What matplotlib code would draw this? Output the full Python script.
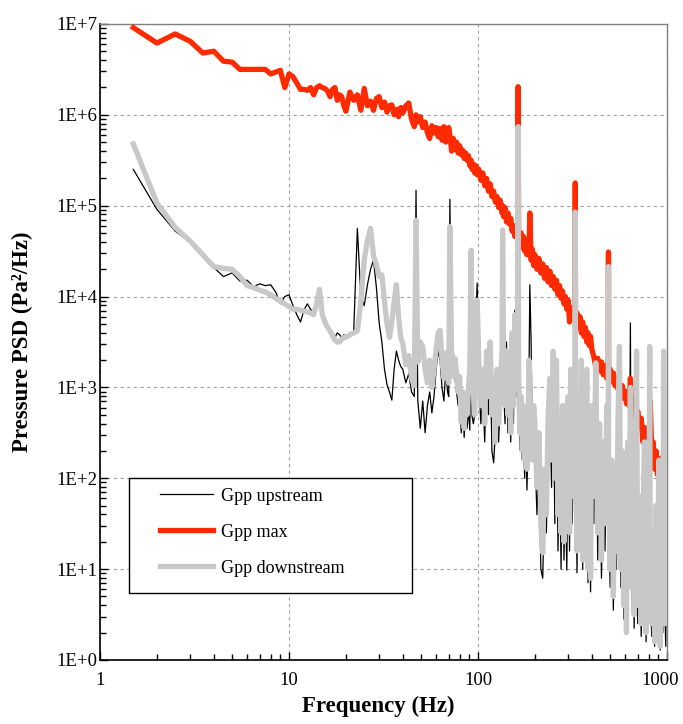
import numpy as np
import matplotlib
matplotlib.use("Agg")
import matplotlib.pyplot as plt
import matplotlib.transforms as mtransforms
from matplotlib.patches import Rectangle

plt.rcParams['font.family'] = 'serif'
plt.rcParams['font.serif'] = ['Liberation Serif', 'DejaVu Serif']

# --- data: frequency (Hz) and log10 of PSD (Pa^2/Hz) ---
freq_a = [1.5, 2, 2.5, 3, 3.5, 4, 4.5, 5, 5.5, 6, 6.5, 7, 7.5, 8, 8.5, 9, 9.5, 10,
          10.5, 11, 11.5, 12, 12.5, 13, 13.5, 14, 14.5, 15, 15.5, 16, 16.5, 17,
          17.5, 18, 18.5, 19, 19.5, 20]
max_a = [6.96, 6.79, 6.89, 6.81, 6.68, 6.70, 6.59, 6.58, 6.50, 6.50, 6.50, 6.50,
         6.50, 6.45, 6.47, 6.49, 6.30, 6.45, 6.42, 6.35, 6.28, 6.28, 6.27, 6.30,
         6.22, 6.30, 6.32, 6.30, 6.29, 6.26, 6.20, 6.28, 6.30, 6.16, 6.22, 6.20,
         6.10, 6.04]
down_a = [5.68, 5.03, 4.76, 4.61, 4.46, 4.33, 4.31, 4.30, 4.22, 4.12, 4.10, 4.07,
          4.05, 4.02, 3.98, 3.95, 3.92, 3.89, 3.86, 3.86, 3.85, 3.84, 3.83, 3.82,
          3.80, 3.92, 4.08, 3.80, 3.72, 3.66, 3.62, 3.57, 3.52, 3.50, 3.50, 3.53,
          3.55, 3.55]
up_a = [5.40, 4.96, 4.72, 4.60, 4.45, 4.32, 4.22, 4.26, 4.17, 4.18, 4.11, 4.14,
        4.12, 4.13, 4.05, 3.92, 4.00, 4.02, 3.90, 3.80, 3.72, 3.85, 3.92, 3.86,
        3.82, 3.96, 3.90, 3.82, 3.75, 3.69, 3.60, 3.53, 3.55, 3.60, 3.58, 3.55,
        3.58, 3.56]

freq_b = [21, 22, 23, 24, 25, 26, 27, 28, 29, 30, 31, 32, 33, 34, 35, 36, 37, 38,
          39, 40, 41.5, 43, 44.5, 46, 47, 48, 49.5, 51, 52.5, 54, 55.5, 57, 58.5,
          60, 61.5, 63, 64.5, 66, 67.5, 69, 70, 71, 72.5, 74, 75.5, 77, 78.5, 80,
          81.5, 83, 84.5, 86, 87.5, 89, 90.5, 92, 93, 94.5, 96, 97.5, 99]
max_b = [6.25, 6.16, 6.22, 6.05, 6.29, 6.10, 6.15, 6.05, 6.18, 6.20, 6.08, 6.14,
         6.03, 6.10, 6.11, 6.00, 6.06, 5.98, 6.08, 6.02,
         6.10, 6.13, 5.95, 5.87, 6.00, 5.92,
         5.98, 5.86, 5.92, 5.80, 5.74, 5.88, 5.80, 5.86, 5.76, 5.85, 5.72, 5.87,
         5.70, 5.80, 5.86, 5.78,
         5.60, 5.74, 5.62, 5.70, 5.58, 5.66, 5.56, 5.61, 5.52, 5.58, 5.50, 5.55,
         5.44, 5.50, 5.40, 5.46, 5.36, 5.44, 5.34]
down_b = [3.58, 3.60, 3.62, 3.95, 4.40, 4.62, 4.75, 4.45, 4.35, 4.22, 4.24, 3.95,
          3.70, 3.55, 3.72, 3.95, 4.13, 3.78, 3.55, 3.48,
          3.25, 3.35, 3.10, 3.02, 4.84, 3.28,
          3.50, 3.45, 3.20, 3.05, 3.30, 3.00, 3.20, 3.42, 3.60, 3.63, 3.30, 3.10,
          3.38, 3.15, 3.05, 4.77,
          3.35, 3.12, 3.32, 3.16, 2.95, 3.12, 2.62, 2.95, 2.55, 2.85, 2.70, 3.00,
          3.22, 4.51, 3.20, 2.95, 2.70, 3.50, 3.96]
up_b = [3.58, 3.62, 4.75, 4.00, 3.90, 4.13, 4.30, 4.40, 4.10, 3.71, 3.50, 3.20,
        3.03, 2.95, 2.86, 3.20, 3.40, 3.30, 3.23, 3.20,
        3.05, 3.15, 2.95, 2.90, 5.17, 2.86,
        2.55, 2.85, 2.50, 2.80, 2.95, 2.72, 2.90, 3.20, 3.40, 3.30, 3.00, 2.85,
        3.20, 2.95, 2.90, 5.07,
        3.20, 3.41, 3.10, 2.95, 2.80, 2.95, 2.50, 2.80, 2.45, 2.86, 2.55, 2.75,
        2.53, 4.30, 2.68, 2.60, 2.70, 3.80, 4.15]

freq_c = [101, 103.5, 106, 108.5, 111, 113.5, 116, 118.5, 121, 123.5, 126, 128.5,
          131, 134, 135, 136.5, 139, 141.5, 144, 146.5, 149, 151.5, 154, 156.5,
          159, 162, 163, 164, 166.5, 169, 171.5, 174, 176.5, 179, 181.5, 184, 186,
          188, 191, 194, 197]
max_c = [5.40, 5.28, 5.36, 5.22, 5.30, 5.16, 5.24, 5.10, 5.16, 5.04, 5.10, 4.98,
         5.06, 4.92, 5.00, 4.88, 4.98, 4.82, 4.92, 4.80, 4.86, 4.72, 4.78, 4.66,
         4.76, 4.80, 6.31, 4.72, 4.58, 4.70, 4.54, 4.66, 4.50, 4.62, 4.46, 4.58,
         4.50, 4.92, 4.40, 4.52, 4.34]
down_c = [3.30, 2.80, 3.20, 2.60, 3.40, 2.90, 3.50, 2.70, 3.10, 2.40, 3.20, 2.60,
          3.00, 3.40, 4.73, 3.30, 2.80, 3.40, 2.70, 3.20, 2.50, 3.60, 2.80, 3.80,
          3.00, 3.40, 5.87, 3.20, 2.50, 2.90, 2.30, 2.80, 2.20, 2.70, 2.10, 2.60,
          3.30, 3.00, 2.50, 2.20, 2.80]
up_c = [3.10, 2.60, 3.00, 2.40, 3.20, 2.70, 3.30, 2.30, 2.17, 2.50, 3.00, 2.40,
        2.80, 3.20, 4.60, 3.00, 2.60, 3.50, 2.50, 3.10, 2.40, 3.30, 2.60, 3.85,
        2.90, 3.30, 5.80, 3.00, 2.31, 2.57, 2.20, 2.60, 2.00, 2.50, 1.87, 2.40,
        3.10, 4.13, 3.49, 2.30, 2.60]

freq_d = [200, 205, 210, 215, 220, 225, 230, 235, 240, 245, 250, 255, 260, 265,
          270, 275, 280, 285, 290, 295, 300, 305, 310, 315, 320, 326, 327, 328,
          334, 340, 346, 352, 358, 364, 370, 376, 382, 388, 394, 400]
max_d = [4.46, 4.30, 4.42, 4.26, 4.36, 4.20, 4.32, 4.16, 4.28, 4.12, 4.22, 4.08,
         4.18, 4.02, 4.12, 3.98, 4.06, 3.92, 4.00, 3.86, 3.96, 3.72, 3.88, 3.76,
         3.84, 3.78, 5.25, 3.70, 3.82, 3.66, 3.78, 3.60, 3.72, 3.56, 3.66, 3.50,
         3.60, 3.46, 3.56, 3.42]
down_d = [2.60, 1.90, 2.50, 1.50, 1.18, 2.10, 1.60, 2.70, 3.10, 2.20, 3.40, 2.00,
          3.30, 1.60, 2.60, 1.40, 2.80, 1.30, 2.40, 1.60, 2.90, 1.40, 3.20, 1.80,
          2.60, 3.00, 4.93, 2.80, 1.20, 2.90, 1.50, 3.30, 1.10, 2.70, 1.30, 3.20,
          1.00, 2.50, 0.90, 2.80]
up_d = [2.30, 1.60, 2.20, 1.00, 0.90, 1.80, 1.40, 2.40, 2.80, 1.90, 3.00, 1.50,
        2.90, 1.20, 2.30, 1.00, 2.50, 1.10, 1.91, 0.99, 2.60, 1.20, 2.90, 1.50,
        2.30, 2.90, 4.80, 2.50, 0.96, 2.60, 1.30, 2.90, 1.00, 2.40, 1.10, 2.90,
        0.85, 2.20, 0.75, 2.50]

freq_e = [410, 420, 430, 440, 450, 460, 470, 480, 489, 490, 491, 500, 510, 520,
          530, 540, 550, 560, 570, 580, 590, 600, 610, 620, 630, 640, 650, 660,
          670, 680, 690, 700, 715, 730, 745, 760, 775, 790, 805, 810, 815, 830,
          845, 860, 875, 890, 905, 920, 935, 950, 960, 970, 985, 1000]
max_e = [3.34, 3.22, 3.32, 3.18, 3.28, 3.14, 3.24, 3.10, 3.20, 4.49, 3.12,
         3.20, 3.06, 3.16, 3.02, 3.10, 2.98, 3.06, 2.92, 3.02, 2.88, 2.96, 2.82,
         2.92, 2.80, 3.10, 2.76, 2.86, 2.70, 2.80, 2.62, 2.74,
         2.56, 2.66, 2.40, 2.56, 2.34, 2.46, 2.30, 2.40, 2.85,
         2.30, 2.40, 2.10, 2.30, 2.04, 2.22, 2.00, 2.16, 2.06, 2.30, 2.10, 2.40, 2.80]
down_e = [1.80, 3.27, 1.40, 2.60, 1.10, 2.40, 1.50, 2.80, 2.20, 4.33, 2.00,
          1.00, 2.20, 0.70, 1.90, 1.20, 2.60, 3.45, 1.00, 2.30, 0.60, 1.70, 0.30,
          2.40, 1.40, 3.00, 0.80, 2.10, 0.50, 1.60, 3.40, 0.60,
          1.80, 0.40, 1.50, 2.40, 0.30, 1.20, 2.00, 3.45, 1.00,
          0.40, 1.40, 0.20, 1.70, 0.50, 2.20, 0.15, 1.20, 0.40, 3.40, 0.90, 0.40, 3.00]
up_e = [1.50, 3.00, 1.10, 2.40, 0.90, 2.10, 1.20, 2.60, 2.00, 4.20, 1.80,
        0.80, 2.00, 0.55, 1.70, 1.00, 2.40, 3.20, 0.80, 2.10, 0.45, 1.50, 0.30,
        2.20, 1.20, 3.71, 0.60, 1.90, 0.35, 1.40, 3.10, 0.40,
        1.60, 0.26, 1.30, 2.20, 0.20, 1.00, 1.80, 3.20, 0.80,
        0.26, 1.20, 0.15, 1.50, 0.40, 2.00, 0.11, 1.00, 0.30, 3.10, 0.70, 0.15, 2.90]

y_ticks = [1e0, 1e1, 1e2, 1e3, 1e4, 1e5, 1e6, 1e7]
y_tick_labels = ['1E+0', '1E+1', '1E+2', '1E+3', '1E+4', '1E+5', '1E+6', '1E+7']
x_ticks = [1, 10, 100, 1000]
x_tick_labels = ['1', '10', '100', '1000']

freq = np.array(freq_a + freq_b + freq_c + freq_d + freq_e)
gpp_up = 10 ** np.array(up_a + up_b + up_c + up_d + up_e)
gpp_max = 10 ** np.array(max_a + max_b + max_c + max_d + max_e)
gpp_down = 10 ** np.array(down_a + down_b + down_c + down_d + down_e)
assert len(freq) == len(gpp_up) == len(gpp_max) == len(gpp_down)

fig = plt.figure(figsize=(6.83, 7.24), dpi=100)
ax = fig.add_axes([0.1464, 0.0884, 0.8302, 0.8785])

ax.plot(freq, gpp_up, color='black', lw=0.9, label='Gpp upstream', zorder=2)
ax.plot(freq, gpp_max, color='#ff2a00', lw=3.8, label='Gpp max', zorder=3)
ax.plot(freq, gpp_down, color='#c8c8c8', lw=3.8, label='Gpp downstream', zorder=4)

ax.set_xscale('log')
ax.set_yscale('log')
ax.set_xlim(1, 1000)
ax.set_ylim(1, 1e7)
ax.set_xticks(x_ticks, x_tick_labels)
ax.set_yticks(y_ticks, y_tick_labels)

ax.grid(True, which='major', ls=(0, (3, 3)), color='#a0a0a0', lw=0.8)
ax.set_axisbelow(True)

ax.tick_params(which='both', direction='in', top=False, right=False,
               labelsize=13.5, width=1.0)
ax.tick_params(which='major', length=6)
ax.tick_params(which='minor', length=4)
ax.tick_params(axis='x', pad=9)
ax.tick_params(axis='y', pad=2)

# keep the "1000" label inside the canvas
last = ax.get_xticklabels()[-1]
last.set_transform(last.get_transform() +
                   mtransforms.ScaledTranslation(-5 / 72, 0, fig.dpi_scale_trans))

for side in ('left', 'bottom'):
    ax.spines[side].set_linewidth(1.2)
for side in ('top', 'right'):
    ax.spines[side].set_color('#808080')
    ax.spines[side].set_linewidth(1.0)

ax.set_xlabel('Frequency (Hz)', fontsize=16.5, fontweight='bold')
ax.set_ylabel('Pressure PSD (Pa²/Hz)', fontsize=16.5, fontweight='bold')
ax.xaxis.set_label_coords(0.49, -0.057)
ax.yaxis.set_label_coords(-0.118, 0.5)

# legend box drawn separately so padding matches the original
ax.add_patch(Rectangle((0.051, 0.105), 0.499, 0.181, transform=ax.transAxes,
                       facecolor='white', edgecolor='black', lw=1.0, zorder=5))
leg = ax.legend(loc='upper left', bbox_to_anchor=(0.106, 0.271), frameon=False,
                fontsize=13, borderpad=0, borderaxespad=0, labelspacing=1.05,
                handlelength=2.95, handletextpad=0.4)
leg.set_zorder(6)

fig.savefig('out.png', dpi=100)
